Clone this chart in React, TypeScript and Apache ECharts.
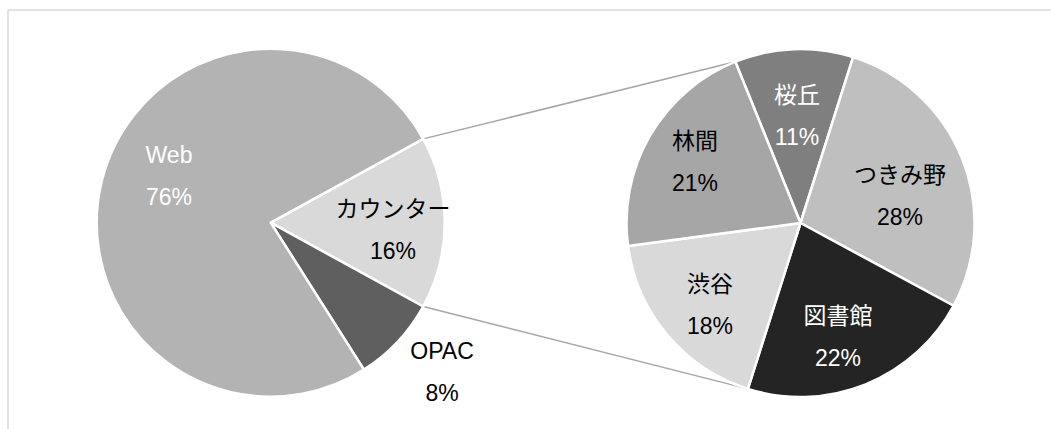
import React, { useEffect, useRef } from "react";
import * as echarts from "echarts";

// Left pie (main)
const mainNames = ["カウンター", "OPAC", "Web"];
const mainValues = [16, 8, 76];
const mainColors = ["#d9d9d9", "#5f5f5f", "#b3b3b3"];
const mainLabelColors = ["#000000", "#000000", "#ffffff"];

// Right pie (breakdown of カウンター)
const subNames = ["桜丘", "つきみ野", "図書館", "渋谷", "林間"];
const subValues = [11, 28, 22, 18, 21];
const subColors = ["#7f7f7f", "#bfbfbf", "#242424", "#d9d9d9", "#a6a6a6"];
const subLabelColors = ["#ffffff", "#000000", "#ffffff", "#000000", "#000000"];

// label anchor positions (layout only)
const mainLabelPos = [[393, 230], [442, 372], [169, 176]];
const subLabelPos = [[797, 116], [900, 196], [838, 337], [710, 305], [695, 162]];

const FONT = "'Liberation Sans', 'Noto Sans CJK JP', sans-serif";

export default function App() {
  const ref = useRef<HTMLDivElement>(null);
  useEffect(() => {
    if (!ref.current) return;
    const chart = echarts.init(ref.current, undefined, { renderer: "svg" });

    const R = 174;
    const leftC = [270.7, 222.7];
    const rightC = [800.5, 223];
    const mainSum = mainValues.reduce((a, b) => a + b, 0);
    const subSum = subValues.reduce((a, b) => a + b, 0);
    const leftStart = (mainValues[0] / mainSum) * 180;
    const leftEnd = leftStart - (mainValues[0] / mainSum) * 360;
    const rightStart = 112;
    const rightEnd = rightStart - ((subValues[0] + subValues[1] + subValues[2]) / subSum) * 360;

    const pt = (c: number[], deg: number) => {
      const a = (deg * Math.PI) / 180;
      return [c[0] + R * Math.cos(a), c[1] - R * Math.sin(a)];
    };
    const lt = pt(leftC, leftStart);
    const lb = pt(leftC, leftEnd);
    const rt = pt(rightC, rightStart);
    const rb = pt(rightC, rightEnd);

    const fmt = (p: any) => `${p.name}\n${Math.round(p.percent)}%`;

    chart.setOption({
      animation: false,
      backgroundColor: "#ffffff",
      graphic: [
        { type: "line", z: -1, shape: { x1: 8, y1: 10, x2: 8, y2: 429 }, style: { stroke: "#d9d9d9", lineWidth: 1.5 } },
        { type: "line", z: -1, shape: { x1: 8, y1: 10, x2: 1051, y2: 10 }, style: { stroke: "#d9d9d9", lineWidth: 1.5 } },
        { type: "line", z: -1, shape: { x1: lt[0], y1: lt[1], x2: rt[0], y2: rt[1] }, style: { stroke: "#a6a6a6", lineWidth: 1.5 } },
        { type: "line", z: -1, shape: { x1: lb[0], y1: lb[1], x2: rb[0], y2: rb[1] }, style: { stroke: "#a6a6a6", lineWidth: 1.5 } },
      ],
      series: [
        {
          type: "pie",
          center: leftC,
          radius: R,
          startAngle: leftStart,
          clockwise: true,
          silent: true,
          label: {
            show: true,
            position: "inside",
            formatter: fmt,
            fontSize: 23,
            lineHeight: 42,
            fontFamily: FONT,
            align: "center",
            verticalAlign: "middle",
          },
          labelLine: { show: false },
          itemStyle: { borderColor: "#ffffff", borderWidth: 2.5 },
          labelLayout: (p: any) => ({ x: mainLabelPos[p.dataIndex][0], y: mainLabelPos[p.dataIndex][1], align: "center", verticalAlign: "middle" }),
          data: mainNames.map((n, i) => ({
            name: n,
            value: mainValues[i],
            itemStyle: { color: mainColors[i] },
            label: { color: mainLabelColors[i] },
          })),
        },
        {
          type: "pie",
          center: rightC,
          radius: R,
          startAngle: rightStart,
          clockwise: true,
          silent: true,
          label: {
            show: true,
            position: "inside",
            formatter: fmt,
            fontSize: 23,
            lineHeight: 42,
            fontFamily: FONT,
            align: "center",
            verticalAlign: "middle",
          },
          labelLine: { show: false },
          itemStyle: { borderColor: "#ffffff", borderWidth: 2.5 },
          labelLayout: (p: any) => ({ x: subLabelPos[p.dataIndex][0], y: subLabelPos[p.dataIndex][1], align: "center", verticalAlign: "middle" }),
          data: subNames.map((n, i) => ({
            name: n,
            value: subValues[i],
            itemStyle: { color: subColors[i] },
            label: { color: subLabelColors[i] },
          })),
        },
      ],
    });
    return () => chart.dispose();
  }, []);
  return (
    <div
      ref={ref}
      style={{ position: "absolute", left: 0, top: 0, width: 1051, height: 429, background: "#fff" }}
    />
  );
}
